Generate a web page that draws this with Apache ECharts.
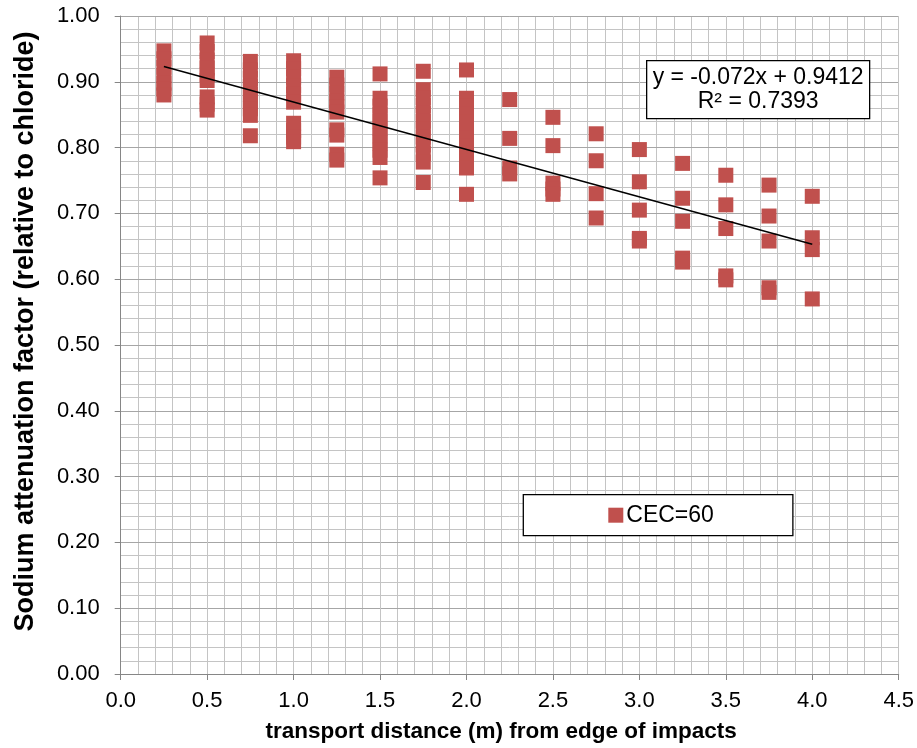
<!DOCTYPE html>
<html>
<head>
<meta charset="utf-8">
<script src="https://cdn.jsdelivr.net/npm/echarts@6/dist/echarts.min.js"></script>
<style>
  html, body { margin: 0; padding: 0; background: #ffffff; }
  #chart { width: 917px; height: 748px; }
</style>
</head>
<body>
<div id="chart"></div>
<script>
// Transport distances (m) at which samples were taken
const distances = [0.25, 0.5, 0.75, 1.0, 1.25, 1.5, 1.75, 2.0, 2.25, 2.5, 2.75, 3.0, 3.25, 3.5, 3.75, 4.0];

// Sodium attenuation factor values observed at each distance (same order as distances)
const factorsAt025 = [0.947, 0.935, 0.922, 0.910, 0.898, 0.889, 0.880];
const factorsAt050 = [0.959, 0.946, 0.933, 0.921, 0.911, 0.902, 0.877, 0.866, 0.857];
const factorsAt075 = [0.931, 0.918, 0.905, 0.893, 0.881, 0.870, 0.859, 0.849, 0.818];
const factorsAt100 = [0.932, 0.920, 0.907, 0.894, 0.881, 0.869, 0.837, 0.826, 0.816, 0.809];
const factorsAt125 = [0.907, 0.895, 0.883, 0.871, 0.862, 0.854, 0.827, 0.819, 0.790, 0.781];
const factorsAt150 = [0.912, 0.875, 0.863, 0.851, 0.840, 0.829, 0.818, 0.807, 0.796, 0.785, 0.754];
const factorsAt175 = [0.916, 0.888, 0.876, 0.864, 0.852, 0.840, 0.828, 0.816, 0.804, 0.791, 0.778, 0.747];
const factorsAt200 = [0.918, 0.875, 0.863, 0.851, 0.839, 0.827, 0.815, 0.803, 0.792, 0.780, 0.769, 0.729];
const factorsAt225 = [0.873, 0.814, 0.769, 0.760];
const factorsAt250 = [0.846, 0.803, 0.746, 0.737, 0.729];
const factorsAt275 = [0.821, 0.780, 0.730, 0.693];
const factorsAt300 = [0.797, 0.748, 0.705, 0.662, 0.658];
const factorsAt325 = [0.776, 0.723, 0.688, 0.632, 0.626];
const factorsAt350 = [0.758, 0.713, 0.677, 0.605, 0.599];
const factorsAt375 = [0.743, 0.696, 0.658, 0.587, 0.580];
const factorsAt400 = [0.726, 0.663, 0.645, 0.570];

const factorsByDistance = [
  factorsAt025, factorsAt050, factorsAt075, factorsAt100,
  factorsAt125, factorsAt150, factorsAt175, factorsAt200,
  factorsAt225, factorsAt250, factorsAt275, factorsAt300,
  factorsAt325, factorsAt350, factorsAt375, factorsAt400
];

// Linear trend fitted to the data
const trendSlope = -0.072;
const trendIntercept = 0.9412;
const trendRSquared = 0.7393;
const trendSpan = [0.25, 4.0];

const seriesName = 'CEC=60';
const xTitle = 'transport distance (m) from edge of impacts';
const yTitle = 'Sodium attenuation factor (relative to chloride)';

// Build [x, y] pairs for the scatter series
const points = [];
distances.forEach(function (d, i) {
  factorsByDistance[i].forEach(function (v) { points.push([d, v]); });
});
const trendPoints = trendSpan.map(function (x) { return [x, trendSlope * x + trendIntercept]; });

const FONT = "'Liberation Sans', Arial, sans-serif";
const MARKER = '#C0504D';
const MINOR_GRID = '#c4c4c4';
const MAJOR_GRID = '#a6a6a6';
const AXIS_GRAY = '#868686';

const chart = echarts.init(document.getElementById('chart'), null, { renderer: 'canvas' });

// Fine grid: helper axes that only draw split lines
const fineAxisBase = {
  type: 'value',
  show: true,
  axisLine: { show: false },
  axisTick: { show: false },
  axisLabel: { show: false },
  splitLine: { show: true, lineStyle: { color: MINOR_GRID, width: 1 } },
  z: 0
};

chart.setOption({
  animation: false,
  backgroundColor: '#ffffff',
  textStyle: { fontFamily: FONT },
  grid: { left: 120.7, right: 17.7, top: 16, bottom: 70.7, containLabel: false },
  xAxis: [{
    type: 'value',
    min: 0, max: 4.5, interval: 0.5,
    name: xTitle,
    nameLocation: 'middle',
    nameGap: 46,
    nameTextStyle: { fontFamily: FONT, fontSize: 22.5, fontWeight: 'bold', color: '#000', padding: [0, 17, 0, 0] },
    axisLine: { show: true, lineStyle: { color: AXIS_GRAY, width: 1 } },
    axisTick: { show: true, length: 6, lineStyle: { color: AXIS_GRAY } },
    axisLabel: { fontFamily: FONT, fontSize: 22, color: '#000', margin: 16,
      formatter: function (v) { return v.toFixed(1); } },
    splitLine: { show: true, lineStyle: { color: MINOR_GRID, width: 1 } },
    z: 1
  }, Object.assign({}, fineAxisBase, { position: 'bottom', min: 0, max: 4.5, interval: 0.1 })],
  yAxis: [{
    type: 'value',
    min: 0, max: 1, interval: 0.1,
    name: yTitle,
    nameLocation: 'middle',
    nameGap: 82,
    nameRotate: 90,
    nameTextStyle: { fontFamily: FONT, fontSize: 27, fontWeight: 'bold', color: '#000', padding: [0, 0, 0, 27] },
    axisLine: { show: true, lineStyle: { color: AXIS_GRAY, width: 1 } },
    axisTick: { show: true, length: 6, lineStyle: { color: AXIS_GRAY } },
    axisLabel: { fontFamily: FONT, fontSize: 22, color: '#000', margin: 21,
      formatter: function (v) { return v.toFixed(2); } },
    splitLine: { show: true, lineStyle: { color: MAJOR_GRID, width: 1 } },
    z: 1
  }, Object.assign({}, fineAxisBase, { position: 'left', min: 0, max: 1, interval: 0.02 })],
  legend: {
    data: [seriesName],
    left: 523.3, top: 494.7,
    orient: 'horizontal',
    backgroundColor: '#ffffff',
    borderColor: '#000000',
    borderWidth: 1.3,
    padding: [9, 79, 9, 85],
    icon: 'rect',
    itemWidth: 15, itemHeight: 15,
    itemGap: 0,
    textStyle: { fontFamily: FONT, fontSize: 23, color: '#000', padding: [0, 0, 0, -2] },
    z: 10
  },
  graphic: [{
    type: 'group',
    left: 646, top: 60,
    z: 100,
    children: [
      { type: 'rect', z: 100, shape: { x: 0, y: 0, width: 223, height: 58 },
        style: { fill: '#ffffff', stroke: '#000000', lineWidth: 1.3 } },
      { type: 'text', z: 101, x: 111.5, y: 29,
        style: { text: 'y = ' + trendSlope + 'x + ' + trendIntercept + '\nR² = ' + trendRSquared,
          font: '23px ' + FONT, fill: '#000', align: 'center', verticalAlign: 'middle', lineHeight: 24.5 } }
    ]
  }],
  series: [
    {
      name: seriesName,
      type: 'scatter',
      data: points,
      symbol: 'rect',
      symbolSize: 15,
      itemStyle: { color: MARKER, opacity: 1, borderWidth: 0 },
      z: 2
    },
    {
      name: 'Linear trend',
      type: 'line',
      data: trendPoints,
      symbol: 'none',
      lineStyle: { color: '#000000', width: 1.5 },
      z: 3,
      silent: true
    }
  ]
});
</script>
</body>
</html>
